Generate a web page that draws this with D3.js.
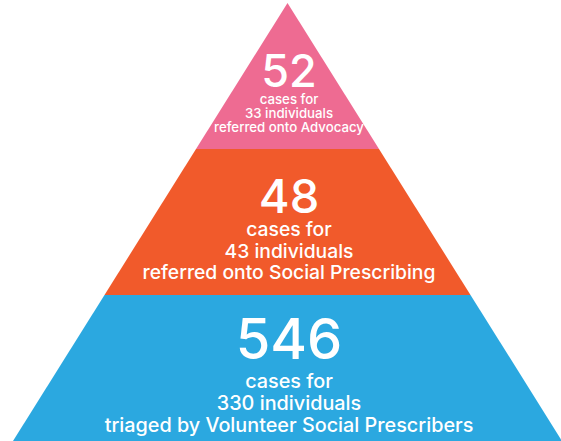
<!DOCTYPE html>
<html>
<head>
<meta charset="utf-8">
<script src="https://cdn.jsdelivr.net/npm/d3@7/dist/d3.min.js"></script>
<style>
  html, body { margin: 0; padding: 0; background: #ffffff; }
  svg { display: block; }
  text { font-family: Inter, "Open Sans", Lato, sans-serif; fill: #ffffff; font-weight: 500; }
</style>
</head>
<body>
<svg id="chart" width="561" height="441"></svg>
<script>
// Pyramid tiers, top to bottom
const levels = ["Advocacy", "Social Prescribing", "Volunteer Social Prescribers"];
const cases = [52, 48, 546];
const individuals = [33, 43, 330];
const descriptions = [
  "referred onto Advocacy",
  "referred onto Social Prescribing",
  "triaged by Volunteer Social Prescribers"
];
const tierColors = ["#EE6B92", "#F15A2B", "#2BA8E0"];

// Typography per tier: number size, caption size, baselines from tier top,
// and the width the longest caption line should span
const tierType = [
  { num: 45, sub: 14,   numY: 84,  lines: [101, 114.5, 129],   capW: 150 },
  { num: 47, sub: 19.5, numY: 64,  lines: [87, 108.5, 129.5],  capW: 293 },
  { num: 56, sub: 20.5, numY: 64,  lines: [93, 115, 137],      capW: 369 }
];

const cx = 287.5, apexY = 3, baseY = 441, halfBase = 274.5;
const tx = cx + 1.5;

const svg = d3.select("#chart");

// Vertical tiers share the height equally
const y = d3.scaleBand().domain(levels).range([apexY, baseY]).paddingInner(0);
// Half-width of the pyramid grows linearly from the apex
const half = d3.scaleLinear().domain([apexY, baseY]).range([0, halfBase]);

const tiers = svg.selectAll("g.tier")
  .data(levels)
  .join("g")
  .attr("class", "tier");

tiers.append("path")
  .attr("fill", (d, i) => tierColors[i])
  .attr("d", d => {
    const y0 = y(d), y1 = y(d) + y.bandwidth();
    const pts = [
      [cx - half(y0), y0], [cx + half(y0), y0],
      [cx + half(y1), y1], [cx - half(y1), y1]
    ];
    return d3.line()(pts) + "Z";
  });

// One text block per tier: the case count followed by three caption lines
tiers.each(function (d, i) {
  const t = tierType[i];
  const label = d3.select(this).append("text")
    .attr("text-anchor", "middle");

  label.append("tspan")
    .attr("x", tx)
    .attr("y", y(d) + t.numY)
    .attr("font-size", t.num)
    .text(cases[i]);

  const lines = ["cases for", individuals[i] + " individuals", descriptions[i]];
  const spans = lines.map((s, k) =>
    label.append("tspan")
      .attr("x", tx)
      .attr("y", y(d) + t.lines[k])
      .attr("font-size", t.sub)
      .text(s)
  );

  // scale the caption so its longest line spans the intended width
  const w = spans[2].node().getComputedTextLength();
  if (w > 0) {
    const fs = t.sub * t.capW / w;
    spans.forEach(s => s.attr("font-size", fs));
  }
});
</script>
</body>
</html>
